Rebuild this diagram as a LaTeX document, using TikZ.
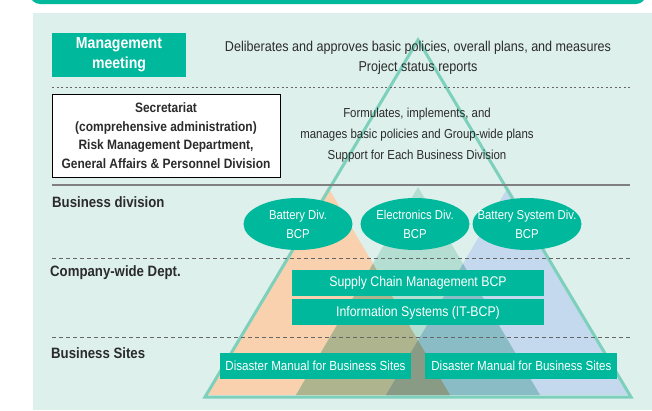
\documentclass[tikz,border=0pt]{standalone}
\usepackage{fontspec}
\setmainfont{Liberation Sans}[FakeStretch=0.88]
\usetikzlibrary{positioning, shapes.geometric}

\definecolor{bcpgreen}{HTML}{00B89C}
\definecolor{panel}{HTML}{DDF0EB}
\definecolor{tristroke}{HTML}{7DD0BC}
\definecolor{peach}{HTML}{F9D1AE}
\definecolor{leafgreen}{HTML}{B3DED1}
\definecolor{skyblue}{HTML}{C5D9EE}
\definecolor{olive}{HTML}{ADB48E}
\definecolor{steel}{HTML}{8ABCC5}
\definecolor{moss}{HTML}{899B85}
\definecolor{inktext}{HTML}{2B2B2B}

\begin{document}
\begin{tikzpicture}[x=1pt, y=-1pt, font=\fontsize{14}{20}\selectfont, text=inktext]
        % Define block styles
        \tikzstyle{block} = [rectangle, fill=bcpgreen, text=white, inner sep=0pt, minimum height=26pt]
        \tikzstyle{division} = [ellipse, fill=bcpgreen, text=white, align=center, inner xsep=-13pt, inner ysep=0pt, minimum width=109pt, minimum height=52pt, font=\fontsize{12.9}{19}\selectfont]
        \tikzstyle{level} = [anchor=west, inner sep=0pt, font=\fontsize{15}{20}\selectfont\bfseries]
        \tikzstyle{note} = [align=center, inner sep=0pt]
        \tikzstyle{sepline} = [densely dashed, gray!80!black, line width=0.8pt]
        \tikzset{battery tri/.style={insert path={(328,187) -- (206,395) -- (450,395) -- cycle}},
                 electronics tri/.style={insert path={(418,187) -- (296,395) -- (540,395) -- cycle}},
                 system tri/.style={insert path={(508,187) -- (386,395) -- (630,395) -- cycle}}}

        \useasboundingbox (0,0) rectangle (652,410);

        % Background
        \fill[bcpgreen, rounded corners=10pt] (30,-30) rectangle (646,4);
        \fill[panel] (33,13) rectangle (652,410);

        % Division triangles and their overlaps
        \fill[peach, battery tri];
        \fill[leafgreen, electronics tri];
        \fill[skyblue, system tri];
        \begin{scope}
            \clip[battery tri];
            \fill[olive, electronics tri];
        \end{scope}
        \begin{scope}
            \clip[electronics tri];
            \fill[steel, system tri];
        \end{scope}
        \begin{scope}
            \clip[battery tri];
            \clip[electronics tri];
            \fill[moss, system tri];
        \end{scope}
        \draw[tristroke, line width=3pt, line join=miter] (418,40) -- (205,397) -- (631,397) -- cycle;

        % Separators
        \draw[sepline, dash pattern=on 2pt off 2.5pt] (52,87) -- (630,87);
        \draw[gray, line width=2pt] (52,185) -- (630,185);
        \draw[sepline, dash pattern=on 4pt off 3pt] (52,258) -- (630,258);
        \draw[sepline, dash pattern=on 4pt off 3pt] (52,337) -- (630,337);

        % Place nodes
        \node [block, minimum width=134pt, minimum height=44pt, align=center, font=\fontsize{16}{20}\selectfont\bfseries] (meeting) at (119,55) {Management\\meeting};
        \node [note, font=\fontsize{14.3}{20}\selectfont] (meeting_role) at (418,58) {Deliberates and approves basic policies, overall plans, and measures\\Project status reports};
        \node [rectangle, draw=black, fill=white, line width=0.8pt, minimum width=228pt, minimum height=83pt, align=center, inner sep=0pt, font=\fontsize{13.6}{18.5}\selectfont\bfseries] (secretariat) at (166,135.5) {Secretariat\\(comprehensive administration)\\Risk Management Department,\\General Affairs \& Personnel Division};
        \node [note, font=\fontsize{13}{21}\selectfont] (secretariat_role) at (417,135) {Formulates, implements, and\\manages basic policies and Group-wide plans\\Support for Each Business Division};

        \node [level] (business_division) at (52,202) {Business division};
        \node [level] (company_dept) at (50,273) {Company-wide Dept.};
        \node [level] (business_sites) at (51,353) {Business Sites};

        \node [division] (battery) at (298,224) {Battery Div.\\BCP};
        \node [division] (electronics) at (415,224) {Electronics Div.\\BCP};
        \node [division] (battery_system) at (527,224) {Battery System Div.\\BCP};

        \node [block, minimum width=252pt, font=\fontsize{14}{20}\selectfont] (supply_chain) at (418,283) {Supply Chain Management BCP};
        \node [block, minimum width=252pt, font=\fontsize{14}{20}\selectfont, below=3pt of supply_chain] (info_systems) {Information Systems (IT-BCP)};

        \node [block, minimum width=191pt, font=\fontsize{13.2}{20}\selectfont] (manual_left) at (315.5,366) {Disaster Manual for Business Sites};
        \node [block, minimum width=192pt, font=\fontsize{13.2}{20}\selectfont, right=14pt of manual_left] (manual_right) {Disaster Manual for Business Sites};
    \end{tikzpicture}
\end{document}
